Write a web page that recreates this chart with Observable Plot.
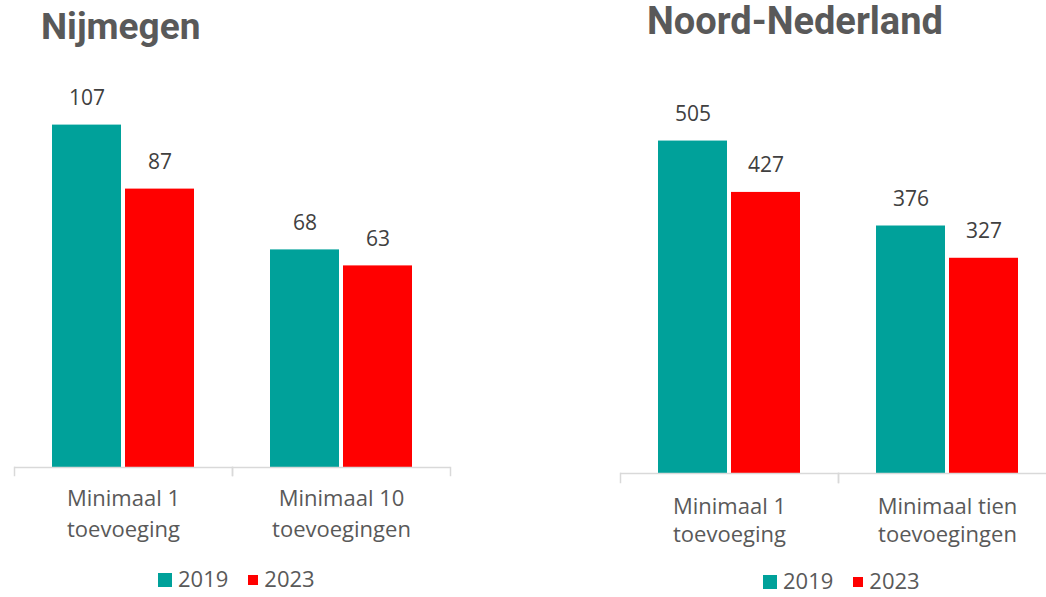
<!DOCTYPE html>
<html>
<head>
<meta charset="utf-8">
<script src="https://cdn.jsdelivr.net/npm/d3@7"></script>
<script src="https://cdn.jsdelivr.net/npm/@observablehq/plot@0.6"></script>
<style>
  html, body { margin: 0; padding: 0; background: #fff; overflow: hidden; }
  #root { position: relative; width: 1046px; height: 597px; overflow: hidden; font-family: "Open Sans", sans-serif; }
  .panel { position: absolute; top: 0; }
  .panel svg { max-width: none !important; }
  .title { position: absolute; font-family: Roboto, sans-serif; font-weight: 700; color: #595959; white-space: nowrap; line-height: 1; }
  .legend { position: absolute; display: flex; align-items: center; font-size: 22px; line-height: 1; height: 22px; color: #595959; white-space: nowrap; }
  .sw { display: inline-block; margin-right: 6px; position: relative; top: 2px; }
  .item { display: flex; align-items: center; margin-right: 20px; }
  .item:last-child { margin-right: 0; }
</style>
</head>
<body>
<div id="root"></div>
<script>
// ---- data ----
const years = ["2019", "2023"];
const colors = ["#00A19A", "#FF0000"];

const nijTitle = "Nijmegen";
const nijCategories = ["Minimaal 1 toevoeging", "Minimaal 10 toevoegingen"];
const nij2019 = [107, 68];
const nij2023 = [87, 63];

const noordTitle = "Noord-Nederland";
const noordCategories = ["Minimaal 1 toevoeging", "Minimaal tien toevoegingen"];
const noord2019 = [505, 376];
const noord2023 = [427, 327];

function rows(cats, a, b) {
  const out = [];
  cats.forEach((c, i) => {
    out.push({cat: c, year: years[0], value: a[i]});
    out.push({cat: c, year: years[1], value: b[i]});
  });
  return out;
}

function wrap(d) { return d.replace(/ (toevoeg)/, "\n$1"); }

function makePlot(cats, data, o) {
  return Plot.plot({
    width: o.width,
    height: o.height,
    marginLeft: o.ml,
    marginRight: o.mr,
    marginTop: o.mt,
    marginBottom: o.mb,
    style: {fontFamily: "'Open Sans', sans-serif", background: "transparent", overflow: "visible"},
    fx: {domain: cats, padding: 0},
    x: {domain: years, paddingInner: 0.054, paddingOuter: 0.5, axis: null},
    y: {domain: o.ydomain, axis: null},
    color: {domain: years, range: colors},
    marks: [
      Plot.frame({anchor: "left", stroke: "#d9d9d9", strokeWidth: 1.5, insetTop: o.tickInset}),
      Plot.frame({anchor: "right", stroke: "#d9d9d9", strokeWidth: 1.5, insetTop: o.tickInset}),
      Plot.barY(data, {fx: "cat", x: "year", y1: 0, y2: "value", fill: "year"}),
      Plot.ruleY([0], {stroke: "#d9d9d9", strokeWidth: 1.5}),
      Plot.text(data, {fx: "cat", x: "year", y: "value", text: d => String(d.value), dy: -27, lineAnchor: "middle", fontSize: 21, fill: "#404040"}),
      Plot.axisFx({anchor: "bottom", tickSize: 0, tickPadding: o.tickPadding, fontSize: 22, lineHeight: o.lh, fill: "#595959", label: null, tickFormat: wrap})
    ]
  });
}

const root = document.getElementById("root");

function addPanel(left, title, titlePos, cats, a, b, o, legendPos) {
  const p = document.createElement("div");
  p.className = "panel";
  p.style.left = left + "px";
  p.style.width = o.width + "px";
  p.appendChild(makePlot(cats, rows(cats, a, b), o));
  root.appendChild(p);

  const t = document.createElement("div");
  t.className = "title";
  t.textContent = title;
  t.style.left = titlePos.x + "px";
  t.style.top = titlePos.y + "px";
  t.style.fontSize = titlePos.size + "px";
  root.appendChild(t);

  const lg = document.createElement("div");
  lg.className = "legend";
  lg.style.left = legendPos.x + "px";
  lg.style.top = legendPos.y + "px";
  years.forEach((y, i) => {
    const it = document.createElement("span");
    it.className = "item";
    const sw = document.createElement("span");
    sw.className = "sw";
    const s = i === 0 ? 14 : 10;
    sw.style.width = s + "px";
    sw.style.height = s + "px";
    sw.style.background = colors[i];
    it.appendChild(sw);
    const tx = document.createElement("span");
    tx.textContent = y;
    it.appendChild(tx);
    lg.appendChild(it);
  });
  root.appendChild(lg);
}

addPanel(0, nijTitle, {x: 41, y: 8, size: 37}, nijCategories, nij2019, nij2023,
  {width: 460, height: 545, ml: 14, mr: 9.3, mt: 83, mb: 70, ydomain: [-2.5, 120], tickInset: 384, tickPadding: 9, lh: 1.4},
  {x: 158, y: 567});

addPanel(600, noordTitle, {x: 647, y: 2, size: 38}, noordCategories, noord2019, noord2023,
  {width: 470, height: 555, ml: 19, mr: 13.6, mt: 78, mb: 73, ydomain: [-13.5, 600], tickInset: 395, tickPadding: 11, lh: 1.3},
  {x: 763, y: 569});
</script>
</body>
</html>
